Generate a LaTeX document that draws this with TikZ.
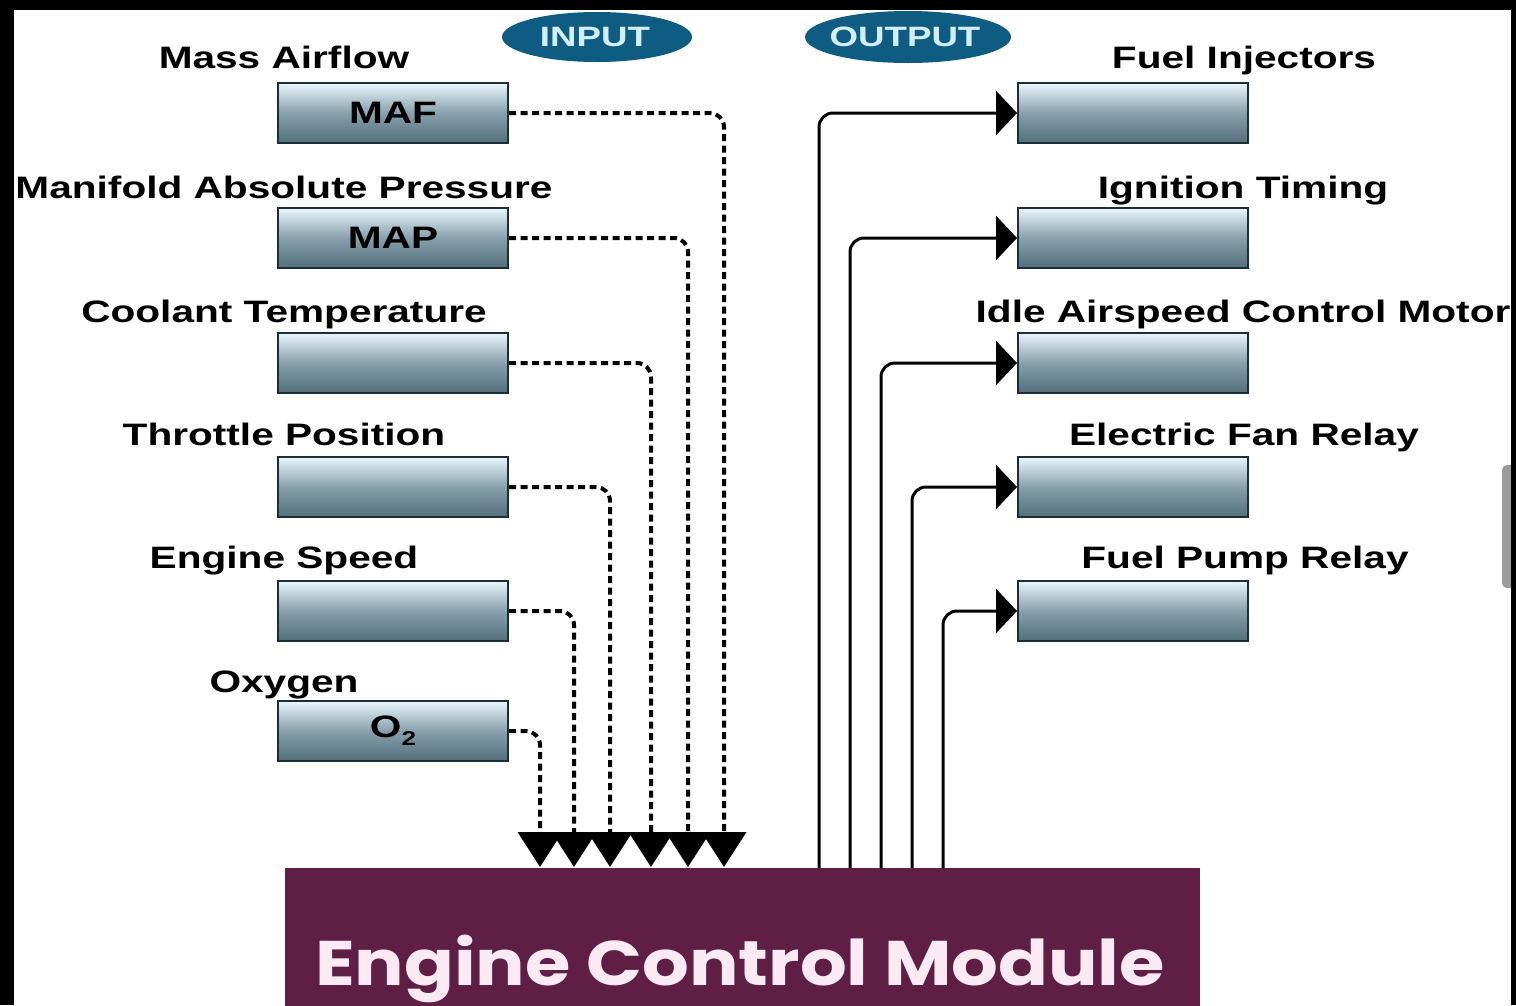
\documentclass[tikz,border=0pt]{standalone}
\usepackage{fontspec}
\setmainfont{Liberation Sans}
\newfontfamily\labfont{Liberation Sans}[FakeStretch=1.31]
\newfontfamily\ecmfont{Poppins}[FakeStretch=1.167]
\usetikzlibrary{arrows.meta}
\definecolor{bxA}{HTML}{2A414C}
\definecolor{bxB}{HTML}{3F5C69}
\definecolor{bxC}{HTML}{86A0AC}
\definecolor{bxD}{HTML}{E6F3F8}
\definecolor{bxE}{HTML}{F2F9FC}
\definecolor{bxF}{HTML}{A3BAC4}
\definecolor{bxG}{HTML}{4C6B78}
\definecolor{bxEdge}{HTML}{1C2E36}
\definecolor{pillblue}{HTML}{0F5C82}
\definecolor{pilltext}{HTML}{D2EEF9}
\definecolor{ecmred}{HTML}{5F1F45}
\definecolor{ecmtext}{HTML}{FBEAF4}
\definecolor{scrollgray}{HTML}{9A9A9A}
\pgfdeclareverticalshading{boxshade}{100bp}{color(0bp)=(bxA); color(15bp)=(bxB); color(50bp)=(bxC); color(74bp)=(bxD); color(82bp)=(bxE); color(92bp)=(bxF); color(100bp)=(bxG)}
\begin{document}
\begin{tikzpicture}[x=1pt,y=-1pt,
  sensor/.style={draw=bxEdge, line width=2pt, shading=boxshade, minimum width=230pt, minimum height=60pt, inner sep=0pt, font=\labfont\bfseries\fontsize{31}{31}\selectfont},
  lbl/.style={anchor=base, inner sep=0pt, font=\labfont\bfseries\fontsize{31}{31}\selectfont},
  pilltxt/.style={inner sep=0pt, text=pilltext, font=\labfont\bfseries\fontsize{28}{28}\selectfont},
  inline/.style={line width=4pt, dash pattern=on 7pt off 4.5pt, rounded corners=14pt, -{Triangle[length=35pt,width=44pt]}},
  outline/.style={line width=3pt, rounded corners=14pt, -{Triangle[length=21pt,width=44pt]}},
  ecmbox/.style={fill=ecmred, inner sep=0pt, minimum width=915pt, minimum height=144pt}
]
\useasboundingbox (0,0) rectangle (1516,1005);
% frame
\fill[black] (0,0) rectangle (1516,1005);
\fill[white] (14,10) rectangle (1511,1005);
\fill[scrollgray, rounded corners=5pt] (1502,465) rectangle (1520,588);

% pills
\fill[pillblue] (597,37) ellipse [x radius=95pt, y radius=25pt];
\fill[pillblue] (908,37) ellipse [x radius=103pt, y radius=26pt];
\node[pilltxt] (inp) at (595,37) {INPUT};
\node[pilltxt] (outp) at (905,37) {OUTPUT};

% ECM
\node[ecmbox] (ecm) at (742.5,940) {};
\node[anchor=base, inner sep=0pt, text=ecmtext, font=\ecmfont\bfseries\fontsize{63}{63}\selectfont] (ecmlabel) at (740,985) {Engine Control Module};

% input sensors
\node[sensor] (maf) at (393,113) {MAF};
\node[sensor] (map) at (393,238) {MAP};
\node[sensor] (clt) at (393,363) {};
\node[sensor] (tps) at (393,487) {};
\node[sensor] (rpm) at (393,611) {};
\node[sensor] (oxy) at (393,731) {O\raisebox{-8pt}{\fontsize{20}{20}\selectfont 2}};

\node[lbl] (lmaf) at (284,68) {Mass Airflow};
\node[lbl] (lmap) at (284,198) {Manifold Absolute Pressure};
\node[lbl] (lclt) at (284,322) {Coolant Temperature};
\node[lbl] (ltps) at (284,445) {Throttle Position};
\node[lbl] (lrpm) at (284,568) {Engine Speed};
\node[lbl] (loxy) at (284,692) {Oxygen};

% outputs
\node[sensor] (fi) at (1133,113) {};
\node[sensor] (ign) at (1133,238) {};
\node[sensor] (iac) at (1133,363) {};
\node[sensor] (fan) at (1133,487) {};
\node[sensor] (fpr) at (1133,611) {};

\node[lbl] (lfi) at (1244,68) {Fuel Injectors};
\node[lbl] (lign) at (1243,198) {Ignition Timing};
\node[lbl] (liac) at (1243,322) {Idle Airspeed Control Motor};
\node[lbl] (lfan) at (1244,445) {Electric Fan Relay};
\node[lbl] (lfpr) at (1245,568) {Fuel Pump Relay};

% input connectors
\coordinate (i1) at (724,867);
\coordinate (i2) at (688,867);
\coordinate (i3) at (651,867);
\coordinate (i4) at (610,867);
\coordinate (i5) at (574,867);
\coordinate (i6) at (540,867);
\draw[inline] (maf.east) -| (i1);
\draw[inline] (map.east) -| (i2);
\draw[inline] (clt.east) -| (i3);
\draw[inline] (tps.east) -| (i4);
\draw[inline] (rpm.east) -| (i5);
\draw[inline] (oxy.east) -| (i6);

% output connectors
\coordinate (o1) at (819,868);
\coordinate (o2) at (850,868);
\coordinate (o3) at (881,868);
\coordinate (o4) at (912,868);
\coordinate (o5) at (943,868);
\draw[outline] (o1) |- (fi.west);
\draw[outline] (o2) |- (ign.west);
\draw[outline] (o3) |- (iac.west);
\draw[outline] (o4) |- (fan.west);
\draw[outline] (o5) |- (fpr.west);

% right frame edge over clipped text
\fill[black] (1511,0) rectangle (1516,1005);
\end{tikzpicture}
\end{document}
